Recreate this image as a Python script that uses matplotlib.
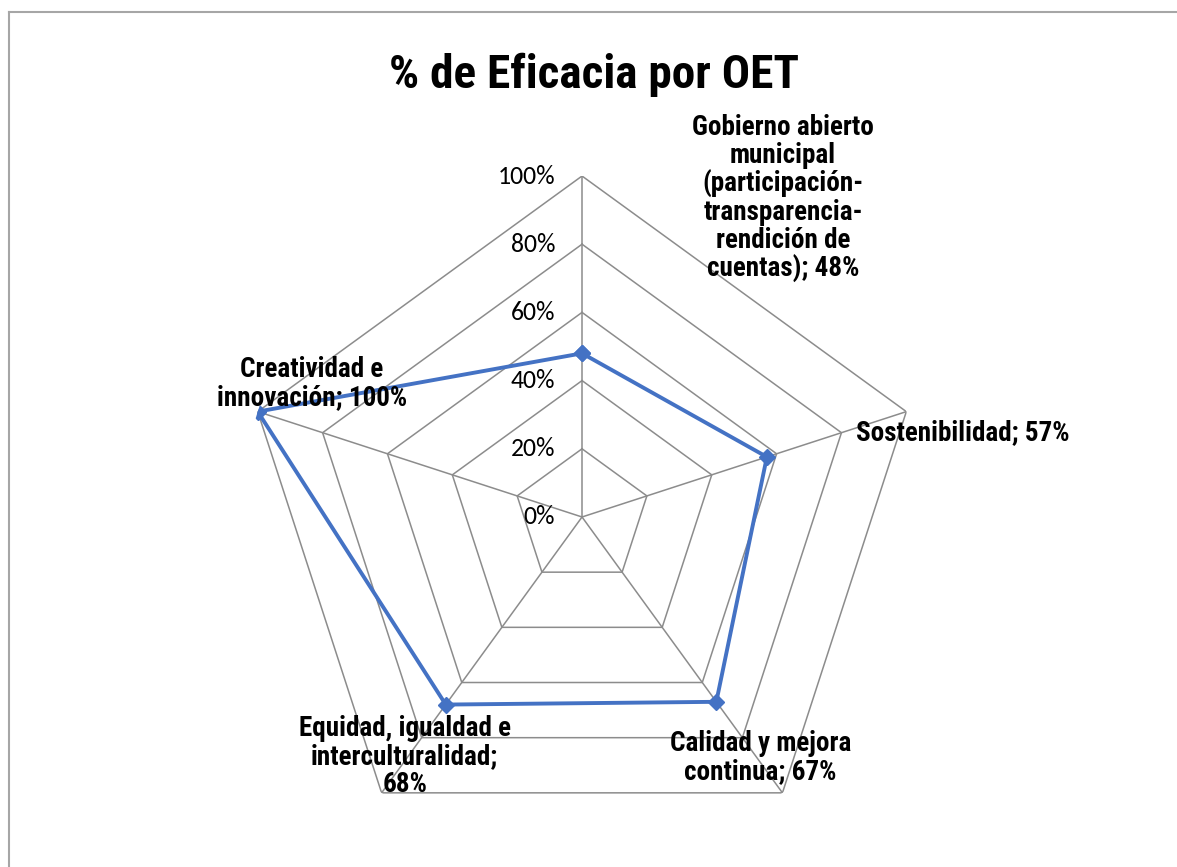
import numpy as np
import matplotlib
import matplotlib.pyplot as plt
from matplotlib.lines import Line2D

matplotlib.use('Agg')

categories = ['Gobierno abierto\nmunicipal\n(participación-\ntransparencia-\nrendición de\ncuentas); 48%',
              'Sostenibilidad; 57%',
              'Calidad y mejora\ncontinua; 67%',
              'Equidad, igualdad e\ninterculturalidad;\n68%',
              'Creatividad e\ninnovación; 100%']
values = [0.48, 0.57, 0.67, 0.68, 1.00]
ticks = [0.0, 0.2, 0.4, 0.6, 0.8, 1.0]
tickLabels = ['0%', '20%', '40%', '60%', '80%', '100%']

# label offsets from each data point, in pixels
labelOffsets = [(201, 155), (196, 24), (44, -56), (-41, -52), (54, 28)]

narrow = ['Roboto Condensed', 'DejaVu Sans']
gridColor = '#8c8c8c'
lineColor = '#4472C4'

fig = plt.figure(figsize=(11.77, 8.67), dpi=100)

# chart border (only top and left edge are visible in the crop)
fig.add_artist(Line2D([9 / 1177, 1.0], [1 - 12 / 867] * 2, color='#a6a6a6', lw=1.5,
                      transform=fig.transFigure))
fig.add_artist(Line2D([9 / 1177] * 2, [0.0, 1 - 12 / 867], color='#a6a6a6', lw=1.5,
                      transform=fig.transFigure))

ax = fig.add_axes([0.2048, 0.0104, 0.5794, 0.7866], projection='polar')
ax.set_theta_zero_location('N')
ax.set_theta_direction(-1)
ax.set_ylim(0, 1)
ax.grid(False)
ax.spines['polar'].set_visible(False)
ax.set_xticks([])
ax.set_yticks([])
ax.patch.set_alpha(0)

n = len(categories)
angles = np.arange(n) * 2 * np.pi / n
closedAngles = np.append(angles, angles[0])

# pentagon grid
for t in ticks[1:]:
    ax.plot(closedAngles, [t] * (n + 1), color=gridColor, lw=1.1, zorder=1)
for a in angles:
    ax.plot([a, a], [0, 1], color=gridColor, lw=1.1, zorder=1)

# tick labels along the top axis
for t, lbl in zip(ticks, tickLabels):
    ax.annotate(lbl, xy=(0, t), xytext=(-27, 0), textcoords='offset pixels',
                ha='right', va='center', fontsize=18.5, family=['Carlito', 'DejaVu Sans'],
                color='#000000')

# data series
ax.plot(closedAngles, np.append(values, values[0]), color=lineColor, lw=2.8,
        marker='D', markersize=8, zorder=3)

for a, v, lbl, off in zip(angles, values, categories, labelOffsets):
    ax.annotate(lbl, xy=(a, v), xytext=off, textcoords='offset pixels',
                ha='center', va='center', multialignment='center',
                fontsize=19.5, fontweight='bold', family=narrow, linespacing=1.04)

fig.text(594 / 1177, 1 - 75 / 867, '% de Eficacia por OET', ha='center', va='center',
         fontsize=34, fontweight='bold', family=narrow)

fig.savefig('out.png', dpi=100)
